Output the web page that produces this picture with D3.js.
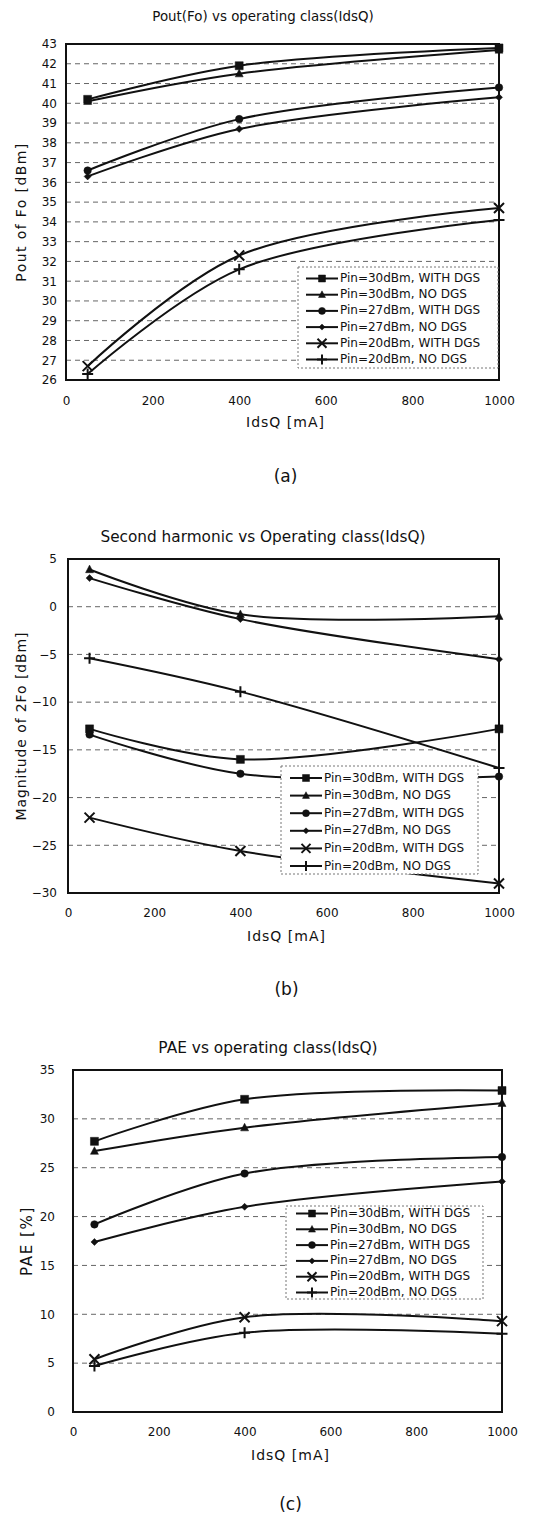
<!DOCTYPE html>
<html>
<head>
<meta charset="utf-8">
<script src="https://cdn.jsdelivr.net/npm/d3@7"></script>
<style>
  html, body { margin: 0; padding: 0; background: #fff; }
  svg { display: block; }
  text { font-family: "DejaVu Sans", Arial, sans-serif; fill: #111; }
</style>
</head>
<body>
<script>
// ---------- DATA ----------
const idsQ = [50, 400, 1000];
const seriesNames = [
  "Pin=30dBm, WITH DGS",
  "Pin=30dBm, NO DGS",
  "Pin=27dBm, WITH DGS",
  "Pin=27dBm, NO DGS",
  "Pin=20dBm, WITH DGS",
  "Pin=20dBm, NO DGS"
];
const markerTypes = ["square", "triangle", "circle", "diamond", "x", "plus"];

// (a) Pout of Fo [dBm]
const poutFo = [
  [40.2, 41.9, 42.8],
  [40.1, 41.5, 42.7],
  [36.6, 39.2, 40.8],
  [36.3, 38.7, 40.3],
  [26.7, 32.3, 34.7],
  [26.3, 31.6, 34.1]
];
// (b) Magnitude of 2Fo [dBm]
const secondHarmonic = [
  [-12.8, -16.0, -12.8],
  [3.9, -0.8, -1.0],
  [-13.4, -17.5, -17.8],
  [3.0, -1.3, -5.5],
  [-22.1, -25.6, -29.0],
  [-5.4, -8.9, -16.9]
];
// (c) PAE [%]
const pae = [
  [27.7, 32.0, 32.9],
  [26.7, 29.1, 31.6],
  [19.2, 24.4, 26.1],
  [17.4, 21.0, 23.6],
  [5.4, 9.7, 9.3],
  [4.7, 8.1, 8.0]
];

const xTicks = [0, 200, 400, 600, 800, 1000];
const yTicksA = [26,27,28,29,30,31,32,33,34,35,36,37,38,39,40,41,42,43];
const yTicksB = [-30, -25, -20, -15, -10, -5, 0, 5];
const yTicksC = [0, 5, 10, 15, 20, 25, 30, 35];

const titles = [
  "Pout(Fo) vs operating class(IdsQ)",
  "Second harmonic vs Operating class(IdsQ)",
  "PAE vs operating class(IdsQ)"
];
const yLabels = ["Pout of Fo [dBm]", "Magnitude of 2Fo [dBm]", "PAE [%]"];
const xLabel = "IdsQ [mA]";
const captions = ["(a)", "(b)", "(c)"];

// ---------- LAYOUT ----------
const W = 544, H = 1515;
const svg = d3.select("body").append("svg").attr("width", W).attr("height", H);

const panels = [
  { data: poutFo, yTicks: yTicksA, domain: [26, 43],
    left: 66, right: 499, top: 44, bottom: 380,
    titleY: 17, titleSize: 13.4, titleX: 263,
    tickY: 401, xTitleY: 423, capY: 477, yLabelX: 22, yLabelSize: 14, yLabelSp: 1.4, tickRight: 57,
    legend: { x: 298, y: 267, w: 200, h: 101, row0: 278.5, dy: 16.2, l1: 306, l2: 338, tx: 340 } },
  { data: secondHarmonic, yTicks: yTicksB, domain: [-30, 5],
    left: 68, right: 499, top: 559, bottom: 893,
    titleY: 537, titleSize: 15.3, titleX: 263,
    tickY: 913, xTitleY: 937, capY: 990, yLabelX: 22, yLabelSize: 14, yLabelSp: 0.9, tickRight: 57,
    legend: { x: 281, y: 766, w: 197, h: 108, row0: 778, dy: 17.6, l1: 290, l2: 322, tx: 324 } },
  { data: pae, yTicks: yTicksC, domain: [0, 35],
    left: 73, right: 502, top: 1070, bottom: 1412,
    titleY: 1048, titleSize: 15.4, titleX: 268,
    tickY: 1432, xTitleY: 1456, capY: 1505, yLabelX: 27, yLabelSize: 15, yLabelSp: 1.6, tickRight: 55,
    legend: { x: 286, y: 1206, w: 197, h: 93, row0: 1213.5, dy: 15.8, l1: 296, l2: 328, tx: 330 } }
];

function markerPath(type, s) {
  const h = s / 2;
  switch (type) {
    case "square": return `M${-h},${-h}H${h}V${h}H${-h}Z`;
    case "triangle": return `M0,${-h * 1.1}L${h},${h * 0.8}L${-h},${h * 0.8}Z`;
    case "circle": return d3.symbol(d3.symbolCircle, Math.PI * h * h)();
    case "diamond": return `M0,${-h}L${h},0L0,${h}L${-h},0Z`;
    case "x": return `M${-h},${-h}L${h},${h}M${h},${-h}L${-h},${h}`;
    case "plus": return `M${-h},0L${h},0M0,${-h}L0,${h}`;
  }
}
const markerSize = { square: 8, triangle: 8, circle: 7.5, diamond: 7, x: 10, plus: 11 };
const legendMarkerSize = { square: 7, triangle: 7, circle: 7, diamond: 6, x: 9, plus: 10 };

function drawMarker(g, type, x, y, size) {
  const stroke = (type === "x" || type === "plus");
  g.append("path")
    .attr("d", markerPath(type, size))
    .attr("transform", `translate(${x},${y})`)
    .attr("fill", stroke ? "none" : "#111")
    .attr("stroke", "#111")
    .attr("stroke-width", stroke ? 2 : 0.5);
}

const fmt = d => d < 0 ? "\u2212" + Math.abs(d) : String(d);

panels.forEach((p, pi) => {
  const g = svg.append("g");
  const x = d3.scaleLinear().domain([0, 1000]).range([p.left, p.right]);
  const y = d3.scaleLinear().domain(p.domain).range([p.bottom, p.top]);

  // title
  g.append("text").attr("x", p.titleX).attr("y", p.titleY)
    .attr("text-anchor", "middle").attr("dominant-baseline", "middle")
    .attr("font-size", p.titleSize).text(titles[pi]);

  // gridlines
  g.append("g").selectAll("line").data(p.yTicks.slice(1, -1)).join("line")
    .attr("x1", p.left).attr("x2", p.right)
    .attr("y1", d => y(d)).attr("y2", d => y(d))
    .attr("stroke", "#666").attr("stroke-width", 1).attr("stroke-dasharray", "5,4");

  // y axis tick labels
  const yAxis = d3.axisLeft(y).tickValues(p.yTicks).tickSize(0).tickPadding(p.left - p.tickRight)
    .tickFormat(fmt);
  const ya = g.append("g").attr("transform", `translate(${p.left},0)`).call(yAxis);
  ya.select(".domain").remove();
  ya.selectAll("text").attr("font-size", 12).attr("font-family", "DejaVu Sans, Arial, sans-serif").attr("fill", "#111");

  // x axis tick labels
  const xAxis = d3.axisBottom(x).tickValues(xTicks).tickSize(0).tickPadding(0).tickFormat(fmt);
  const xa = g.append("g").attr("transform", `translate(0,${p.tickY})`).call(xAxis);
  xa.select(".domain").remove();
  xa.selectAll("text").attr("font-size", 12).attr("dy", "0.32em").attr("font-family", "DejaVu Sans, Arial, sans-serif").attr("fill", "#111");

  // axis titles
  g.append("text").attr("x", (p.left + p.right) / 2 + 3).attr("y", p.xTitleY)
    .attr("text-anchor", "middle").attr("dominant-baseline", "middle")
    .attr("font-size", 14).attr("letter-spacing", 1).text(xLabel);
  g.append("text")
    .attr("transform", `translate(${p.yLabelX},${(p.top + p.bottom) / 2}) rotate(-90)`)
    .attr("text-anchor", "middle").attr("dominant-baseline", "middle")
    .attr("font-size", p.yLabelSize).attr("letter-spacing", p.yLabelSp).text(yLabels[pi]);

  // caption
  g.append("text").attr("x", (p.left + p.right) / 2 + 3).attr("y", p.capY)
    .attr("text-anchor", "middle").attr("dominant-baseline", "middle")
    .attr("font-family", "Liberation Serif, Times New Roman, serif")
    .attr("font-size", 17).text(captions[pi]);

  // series lines
  const line = d3.line().x((d, i) => x(idsQ[i])).y(d => y(d)).curve(d3.curveCatmullRom.alpha(0.5));
  p.data.forEach((vals, si) => {
    g.append("path").datum(vals).attr("d", line)
      .attr("fill", "none").attr("stroke", "#111").attr("stroke-width", 2);
  });

  // plot border
  g.append("rect").attr("x", p.left).attr("y", p.top)
    .attr("width", p.right - p.left).attr("height", p.bottom - p.top)
    .attr("fill", "none").attr("stroke", "#111").attr("stroke-width", 2);

  // markers
  p.data.forEach((vals, si) => {
    vals.forEach((v, i) => drawMarker(g, markerTypes[si], x(idsQ[i]), y(v), markerSize[markerTypes[si]]));
  });

  // legend
  const L = p.legend;
  const lg = g.append("g");
  lg.append("rect").attr("x", L.x).attr("y", L.y).attr("width", L.w).attr("height", L.h)
    .attr("fill", "#fff").attr("stroke", "#777").attr("stroke-width", 1).attr("stroke-dasharray", "2,2");
  seriesNames.forEach((name, si) => {
    const yy = L.row0 + si * L.dy;
    lg.append("line").attr("x1", L.l1).attr("x2", L.l2).attr("y1", yy).attr("y2", yy)
      .attr("stroke", "#111").attr("stroke-width", 2);
    drawMarker(lg, markerTypes[si], (L.l1 + L.l2) / 2, yy, legendMarkerSize[markerTypes[si]]);
    lg.append("text").attr("x", L.tx).attr("y", yy).attr("dominant-baseline", "middle")
      .attr("font-size", 12).text(name);
  });
});
</script>
</body>
</html>
